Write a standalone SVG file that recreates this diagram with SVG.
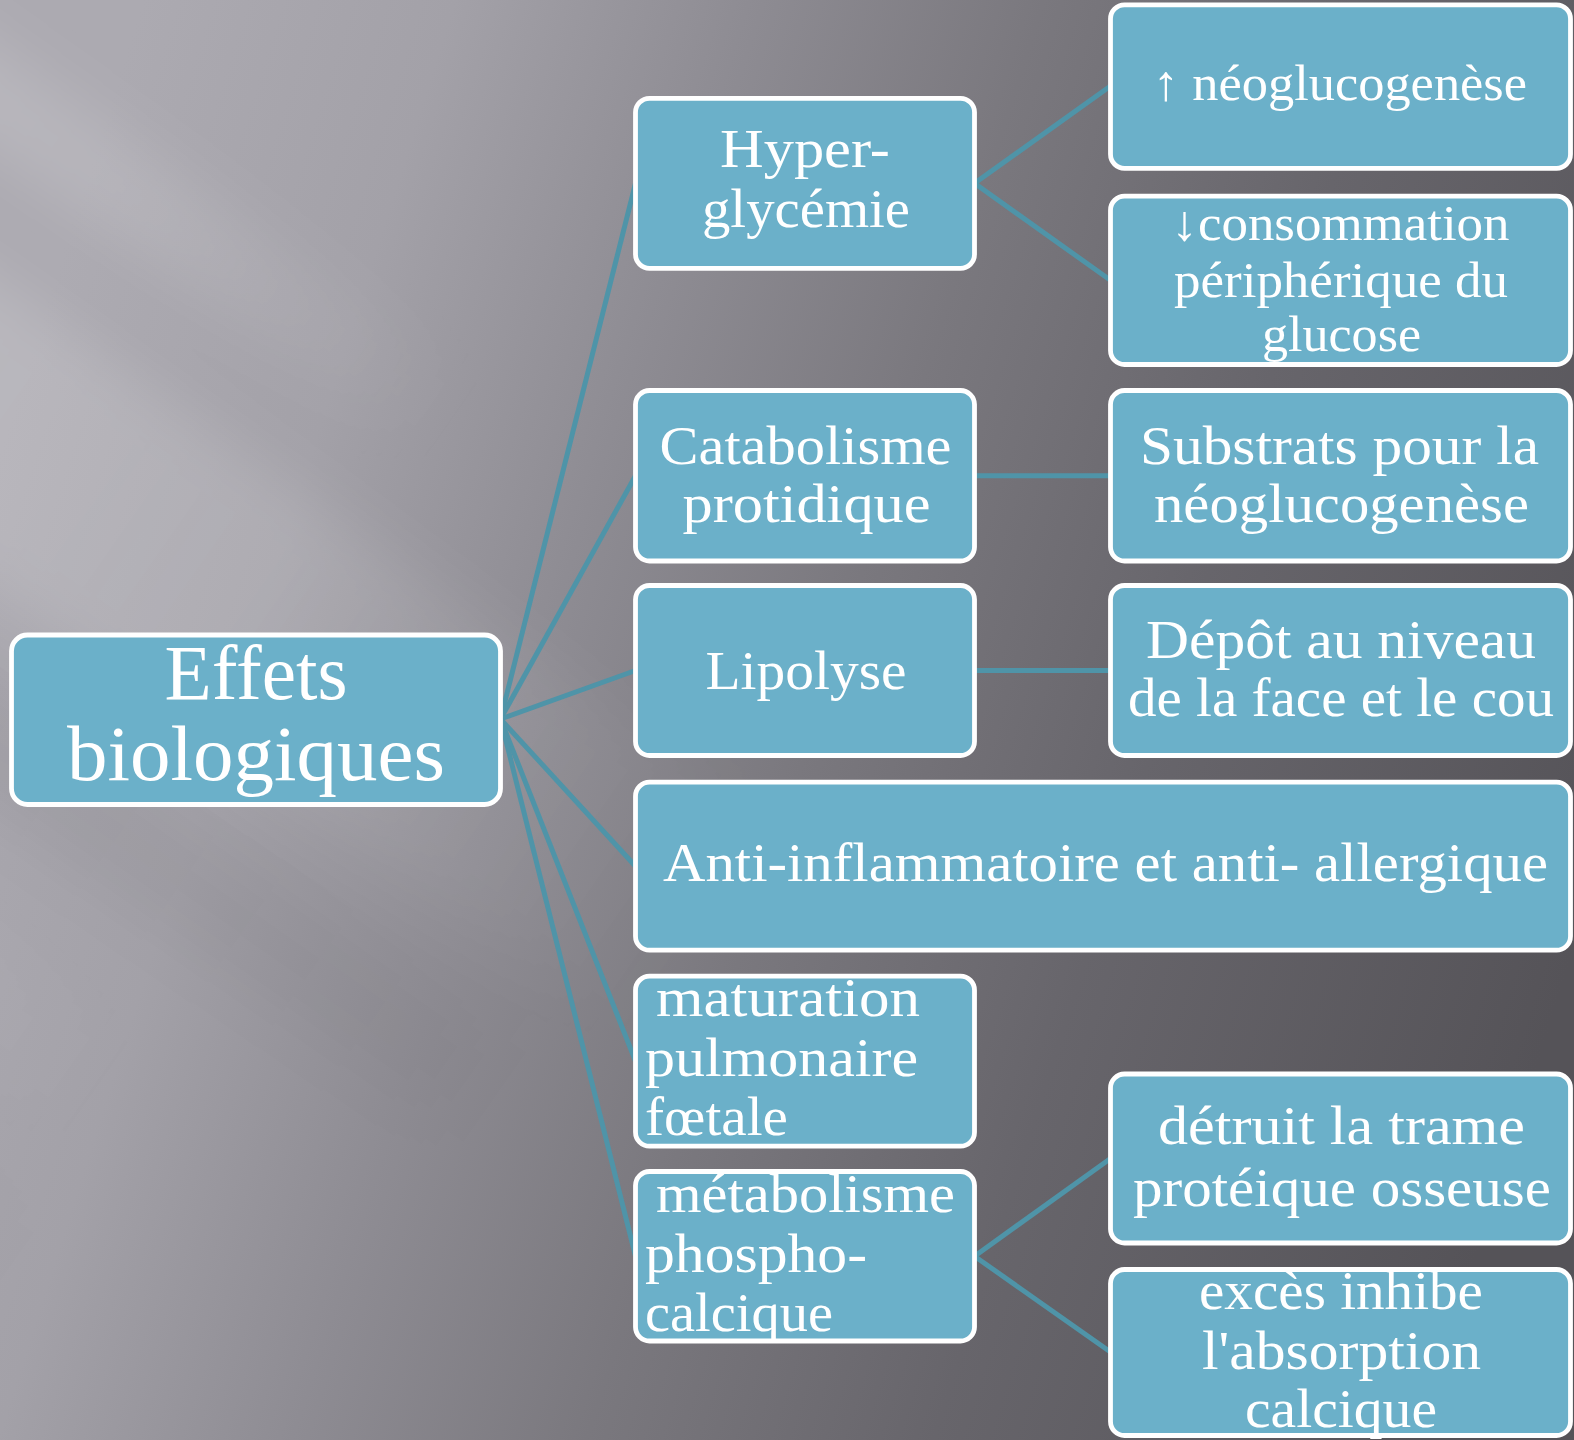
<svg xmlns="http://www.w3.org/2000/svg" width="1574" height="1440" viewBox="0 0 1574 1440">
<style>
.node{fill:#6bb0c9;stroke:#ffffff;stroke-width:4.8}
.t{font-family:"Liberation Serif","DejaVu Serif",serif;fill:#ffffff;font-size:54px}
.tt{font-family:"Liberation Serif","DejaVu Serif",serif;fill:#ffffff;font-size:50px}
.big{font-size:78px}
.c{text-anchor:middle}
.conn line{stroke:#4f94a8;stroke-width:5}
</style>
<defs>
<linearGradient id="bg" x1="0" y1="450" x2="1574" y2="950" gradientUnits="userSpaceOnUse">
<stop offset="0" stop-color="#acaab1"/>
<stop offset="0.18" stop-color="#a3a1a8"/>
<stop offset="0.35" stop-color="#8e8c93"/>
<stop offset="0.52" stop-color="#7a787e"/>
<stop offset="0.72" stop-color="#67656b"/>
<stop offset="1" stop-color="#555358"/>
</linearGradient>
<linearGradient id="fadeW" x1="0" y1="0" x2="1" y2="0">
<stop offset="0" stop-color="#ffffff" stop-opacity="0.2"/>
<stop offset="0.6" stop-color="#ffffff" stop-opacity="0.12"/>
<stop offset="1" stop-color="#ffffff" stop-opacity="0"/>
</linearGradient>
<linearGradient id="fadeK" x1="0" y1="0" x2="1" y2="0">
<stop offset="0" stop-color="#000000" stop-opacity="0.1"/>
<stop offset="1" stop-color="#000000" stop-opacity="0.02"/>
</linearGradient>
<filter id="blur" x="-20%" y="-50%" width="140%" height="200%"><feGaussianBlur stdDeviation="28"/></filter>
</defs>
<rect x="0" y="0" width="1574" height="1440" fill="url(#bg)"/>
<g transform="rotate(35)" filter="url(#blur)">
<rect x="-300" y="230" width="1400" height="260" fill="url(#fadeW)"/>
<rect x="-300" y="40" width="900" height="90" fill="url(#fadeW)"/>
<rect x="-600" y="560" width="1600" height="110" fill="url(#fadeK)"/>
<rect x="-700" y="780" width="1400" height="110" fill="url(#fadeW)"/>
<rect x="-800" y="990" width="1500" height="140" fill="url(#fadeK)"/>
</g>
<g id="connectors" class="conn">
<line x1="500.5" y1="719" x2="635.5" y2="183.3"/>
<line x1="500.5" y1="719" x2="635.5" y2="475.7"/>
<line x1="500.5" y1="719" x2="635.5" y2="670.5"/>
<line x1="500.5" y1="719" x2="635.5" y2="866.2"/>
<line x1="500.5" y1="719" x2="635.5" y2="1061.2"/>
<line x1="500.5" y1="719" x2="635.5" y2="1256.2"/>
<line x1="974.5" y1="183.3" x2="1110.5" y2="86"/>
<line x1="974.5" y1="183.3" x2="1110.5" y2="280.3"/>
<line x1="974.5" y1="475.7" x2="1110.5" y2="475.7"/>
<line x1="974.5" y1="670.5" x2="1110.5" y2="670.5"/>
<line x1="974.5" y1="1256.2" x2="1110.5" y2="1158.5"/>
<line x1="974.5" y1="1256.2" x2="1110.5" y2="1352"/>
</g>
<g id="effets">
<rect class="node" x="11.5" y="635" width="489" height="169.5" rx="16"/>
<text class="t big c" x="256" y="699" textLength="183" lengthAdjust="spacingAndGlyphs">Effets</text>
<text class="t big c" x="256" y="780" textLength="378" lengthAdjust="spacingAndGlyphs">biologiques</text>
</g>
<g id="hyper">
<rect class="node" x="635.5" y="98.3" width="339" height="170" rx="14"/>
<text class="t c" x="805" y="167" textLength="170" lengthAdjust="spacingAndGlyphs">Hyper-</text>
<text class="t c" x="806" y="227" textLength="208" lengthAdjust="spacingAndGlyphs">glycémie</text>
</g>
<g id="catab">
<rect class="node" x="635.5" y="390.5" width="339" height="170.5" rx="14"/>
<text class="t c" x="805.5" y="464" textLength="292" lengthAdjust="spacingAndGlyphs">Catabolisme</text>
<text class="t c" x="806.5" y="522" textLength="248" lengthAdjust="spacingAndGlyphs">protidique</text>
</g>
<g id="lipolyse">
<rect class="node" x="635.5" y="585.5" width="339" height="170" rx="14"/>
<text class="t c" x="806" y="689" textLength="201" lengthAdjust="spacingAndGlyphs">Lipolyse</text>
</g>
<g id="anti">
<rect class="node" x="635.5" y="782.2" width="935" height="168" rx="14"/>
<text class="t c" x="1105.5" y="881" textLength="885" lengthAdjust="spacingAndGlyphs">Anti-inflammatoire et anti- allergique</text>
</g>
<g id="maturation">
<rect class="node" x="635.5" y="976.2" width="339" height="170" rx="14"/>
<text class="t" x="656" y="1016" textLength="264" lengthAdjust="spacingAndGlyphs">maturation</text>
<text class="t" x="645" y="1076" textLength="273" lengthAdjust="spacingAndGlyphs">pulmonaire</text>
<text class="t" x="645" y="1135" textLength="143" lengthAdjust="spacingAndGlyphs">fœtale</text>
</g>
<g id="metabolisme">
<rect class="node" x="635.5" y="1171.5" width="339" height="169.5" rx="14"/>
<text class="t" x="656" y="1212" textLength="299" lengthAdjust="spacingAndGlyphs">métabolisme</text>
<text class="t" x="645" y="1272" textLength="222" lengthAdjust="spacingAndGlyphs">phospho-</text>
<text class="t" x="645" y="1331" textLength="188" lengthAdjust="spacingAndGlyphs">calcique</text>
</g>
<g id="neo">
<rect class="node" x="1110.5" y="4.8" width="460" height="163.5" rx="14"/>
<text class="tt c" x="1340" y="100" textLength="374" lengthAdjust="spacingAndGlyphs">↑ néoglucogenèse</text>
</g>
<g id="consommation">
<rect class="node" x="1110.5" y="196.2" width="460" height="168.3" rx="14"/>
<text class="tt c" x="1340.5" y="240" textLength="338" lengthAdjust="spacingAndGlyphs">↓consommation</text>
<text class="tt c" x="1341" y="297" textLength="334" lengthAdjust="spacingAndGlyphs">périphérique du</text>
<text class="tt c" x="1341.5" y="351" textLength="159" lengthAdjust="spacingAndGlyphs">glucose</text>
</g>
<g id="substrats">
<rect class="node" x="1110.5" y="390.5" width="460" height="170.5" rx="14"/>
<text class="t c" x="1339.5" y="464" textLength="399" lengthAdjust="spacingAndGlyphs">Substrats pour la</text>
<text class="t c" x="1341.5" y="522" textLength="375" lengthAdjust="spacingAndGlyphs">néoglucogenèse</text>
</g>
<g id="depot">
<rect class="node" x="1110.5" y="585.5" width="460" height="170" rx="14"/>
<text class="t c" x="1341" y="658" textLength="390" lengthAdjust="spacingAndGlyphs">Dépôt au niveau</text>
<text class="t c" x="1341" y="716" textLength="426" lengthAdjust="spacingAndGlyphs">de la face et le cou</text>
</g>
<g id="detruit">
<rect class="node" x="1110.5" y="1074" width="460" height="169" rx="14"/>
<text class="t c" x="1341.5" y="1144" textLength="367" lengthAdjust="spacingAndGlyphs">détruit la trame</text>
<text class="t c" x="1342" y="1206" textLength="418" lengthAdjust="spacingAndGlyphs">protéique osseuse</text>
</g>
<g id="exces">
<rect class="node" x="1110.5" y="1269.5" width="460" height="166" rx="14"/>
<text class="t c" x="1341" y="1309" textLength="284" lengthAdjust="spacingAndGlyphs">excès inhibe</text>
<text class="t c" x="1341.5" y="1369" textLength="279" lengthAdjust="spacingAndGlyphs">l'absorption</text>
<text class="t c" x="1341" y="1427" textLength="192" lengthAdjust="spacingAndGlyphs">calcique</text>
</g>
</svg>
